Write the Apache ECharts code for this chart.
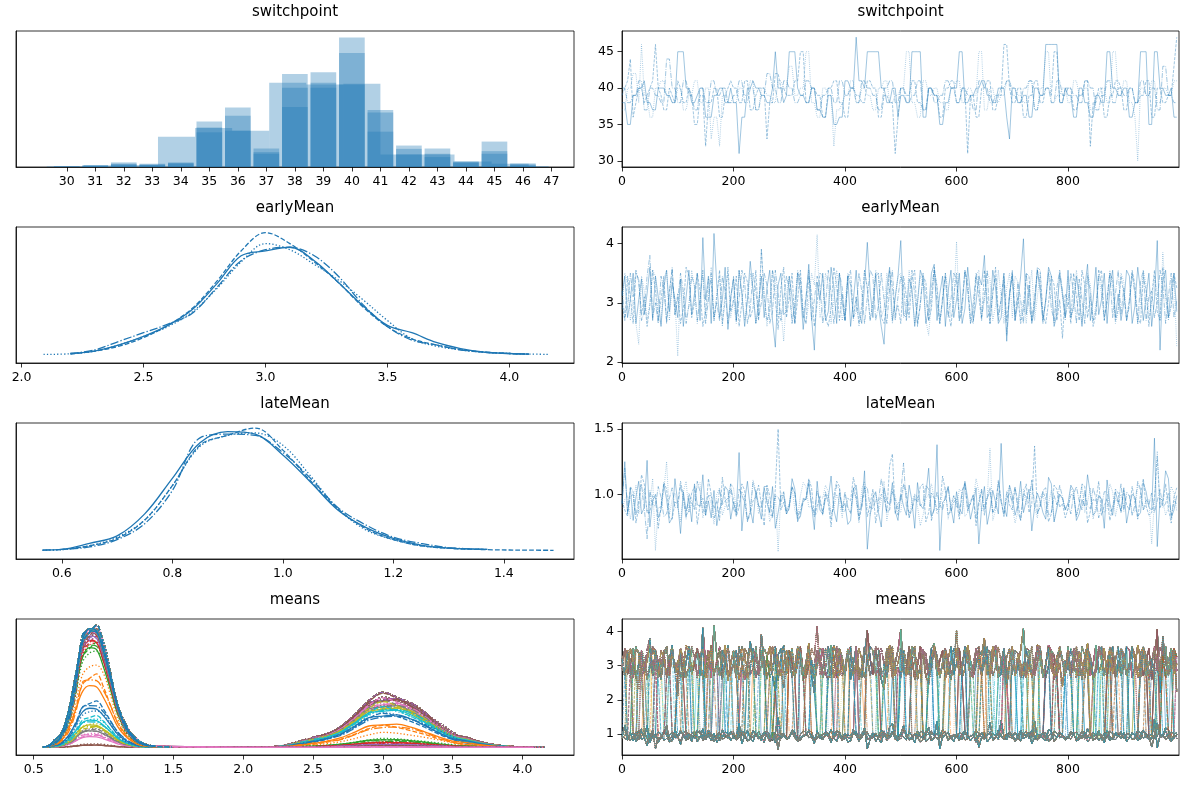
<!DOCTYPE html>
<html><head><meta charset="utf-8">
<script src="https://cdn.jsdelivr.net/npm/echarts@6/dist/echarts.min.js"></script>
<style>html,body{margin:0;padding:0;background:#fff}#c{width:1188px;height:789px}</style>
</head><body><div id="c"></div>
<script>
// ---------------- colours ----------------
const TAB10 = ['#1f77b4','#ff7f0e','#2ca02c','#d62728','#9467bd','#8c564b','#e377c2','#7f7f7f','#bcbd22','#17becf'];

// ---------------- panel titles ----------------
const panelTitles = ['switchpoint','switchpoint','earlyMean','earlyMean','lateMean','lateMean','means','means'];

// ---------------- switchpoint histogram (4 chains) ----------------
const histBins = [30,31,32,33,34,35,36,37,38,39,40,41,42,43,44,45,46];
const histChain0 = [2,6,14,10,14,138,180,56,282,287,392,173,65,56,17,77,11];
const histChain1 = [2,4,10,8,12,120,155,45,240,255,345,165,55,40,15,48,8];
const histChain2 = [1,3,8,6,10,105,110,40,182,240,250,107,38,30,12,40,5];
const histChain3Edges = [29.3,30.6,31.9,33.2,34.5,35.8,37.1,38.4,39.7,41.0,42.3,43.6,44.9,46.2,46.9];
const histChain3 = [2,5,6,92,118,110,255,250,252,38,38,17,10,3];

// ---------------- trace samples (every 5th draw) ----------------
const DRAWS = Array.from({length:200}, (_, k) => k * 5);

const spChain0 = [
38,38,35,35,39,39,40,40,41,38, 38,37,37,40,40,40,39,39,38,38,
45,45,45,40,40,38,38,39,40,40, 36,36,36,39,39,40,40,38,38,40,
38,38,31,36,36,40,40,41,40,40, 39,39,38,38,40,45,40,40,38,39,
45,45,45,40,39,39,38,38,40,40, 37,37,36,36,39,39,35,35,36,36,
41,41,40,40,47,41,41,40,45,45, 45,45,45,40,40,38,38,40,40,36,
39,39,38,38,45,45,45,45,36,36, 40,40,39,39,35,35,38,38,40,40,
40,45,45,38,38,39,39,40,40,41, 41,39,39,38,38,40,40,40,36,33,
40,40,38,38,39,39,36,36,40,40, 39,39,46,46,46,46,46,38,38,40,
39,39,36,36,40,40,38,38,36,36, 39,39,38,38,45,45,40,40,39,39,
40,40,36,36,38,38,45,45,45,35, 35,45,45,40,40,39,39,40,36,36];
const spChain1 = [
39,40,41,44,36,38,40,40,38,39, 40,41,46,40,39,37,37,40,39,38,
41,40,38,38,40,39,35,35,39,39, 32,38,38,40,40,36,36,39,40,41,
40,40,38,38,41,41,37,37,39,40, 40,40,33,38,38,42,42,40,40,39,
39,39,41,41,45,45,38,38,40,40, 39,39,36,36,40,40,41,41,38,38,
36,36,40,40,39,39,38,38,41,41, 40,40,36,36,39,39,38,38,31,36,
40,40,39,39,41,41,38,38,37,37, 40,40,39,39,36,36,40,40,41,41,
38,38,40,40,31,39,39,36,36,40, 40,41,41,37,37,39,39,46,46,40,
38,38,40,40,36,36,39,39,41,41, 38,38,40,40,39,45,45,38,38,40,
40,40,37,37,39,39,41,41,32,38, 38,40,40,36,36,39,39,41,41,40,
37,37,40,40,38,38,39,39,41,41, 36,36,40,40,38,38,39,39,43,47];
const spChain2 = [
37,37,40,40,42,42,38,46,39,39, 36,36,40,40,41,41,39,39,38,38,
40,40,37,37,39,39,41,41,38,38, 40,40,33,36,36,32,39,39,38,38,
38,38,40,40,39,39,41,41,37,37, 40,40,39,39,38,38,41,41,40,40,
43,43,39,39,40,40,45,45,38,38, 36,36,40,40,39,39,32,37,37,38,
39,39,41,41,38,38,40,40,39,39, 37,37,40,40,41,41,38,38,39,39,
40,40,45,45,38,38,36,36,41,41, 39,39,40,40,38,38,37,37,40,40,
41,41,38,38,40,40,39,39,45,45, 37,37,40,40,38,38,39,39,41,41,
40,40,39,39,38,38,41,41,37,37, 40,40,45,45,38,38,39,39,40,40,
38,38,41,41,39,39,40,40,37,37, 39,39,40,40,38,38,45,45,39,39,
41,41,38,38,36,30,40,40,39,39, 41,41,38,38,40,40,39,39,41,41];
const spChain3 = [
40,40,38,38,39,39,41,41,37,37, 40,40,39,39,38,38,44,44,40,40,
38,38,41,41,39,39,37,37,40,40, 38,38,41,41,39,39,40,40,38,38,
39,39,41,41,38,38,40,40,37,37, 39,39,42,42,40,40,38,38,41,41,
40,40,38,38,39,39,41,41,40,40, 37,37,39,39,40,40,38,38,41,41,
39,39,40,40,38,38,41,41,40,40, 39,39,37,37,40,40,41,41,38,38,
40,40,38,38,39,39,41,41,37,37, 40,40,38,38,39,39,41,41,40,40,
38,38,40,40,39,39,37,37,41,41, 40,40,38,38,39,39,40,40,41,41,
39,39,38,38,40,40,41,41,37,37, 39,39,40,40,38,38,41,41,39,39,
40,40,39,39,38,38,41,41,40,40, 37,37,39,39,41,41,38,38,40,40,
39,39,40,40,38,38,41,41,39,39, 40,40,37,37,43,43,39,39,38,38];

const earlyChain0 = [
3.12,3.45,2.75,3.05,3.50,2.65,3.05,3.40,2.80,3.15, 3.60,2.70,3.45,3.10,2.60,3.25,3.55,2.85,3.35,3.05,
2.75,3.40,2.60,3.10,3.55,2.80,3.15,3.50,2.70,4.10, 3.05,3.45,2.65,4.17,3.30,2.75,3.05,3.60,2.55,3.10,
3.40,2.70,3.55,3.15,2.60,3.05,3.70,3.20,2.65,3.00, 3.45,2.75,3.25,3.55,2.70,2.25,3.30,3.50,2.80,2.85,
3.45,3.10,2.65,3.50,3.20,2.55,3.05,3.65,2.75,2.20, 3.35,3.05,3.50,2.70,2.85,3.60,3.25,2.65,3.50,3.00,
2.70,3.45,2.60,3.05,3.55,2.85,2.65,3.30,4.02,3.20, 2.75,3.50,2.95,2.60,2.30,3.25,3.60,2.70,3.10,3.45,
4.05,2.80,2.75,3.40,3.25,2.60,3.00,3.55,3.40,2.65, 2.90,3.50,3.65,2.70,3.15,3.45,2.60,3.20,3.55,2.75,
3.05,3.50,2.65,2.90,3.60,3.15,2.70,3.00,3.45,3.30, 3.80,2.75,2.85,3.55,3.25,2.65,2.75,3.40,2.35,3.15,
3.50,2.70,3.00,3.45,4.08,2.80,3.30,2.65,2.90,3.55, 3.20,2.70,3.05,3.60,3.45,2.60,2.80,3.50,3.15,2.75,
3.55,2.75,2.95,3.45,3.10,2.60,3.25,3.65,2.70,3.05, 3.60,2.80,3.05,3.50,2.65,3.25,3.55,2.75,3.15,2.70,
3.00,3.55,3.45,2.65,2.95,3.60,3.20,2.70,3.10,3.50, 2.60,3.05,4.05,2.20,3.35,3.55,2.75,3.25,3.50,2.85];
const earlyChain1 = [
3.00,2.70,3.45,3.10,2.65,3.50,3.40,2.80,3.10,2.60, 2.95,3.55,3.20,2.70,3.05,3.45,2.65,3.20,3.55,2.80,
3.15,2.65,2.90,3.60,3.45,2.75,3.00,3.50,3.20,2.60, 2.85,3.40,3.35,2.70,3.10,3.55,2.65,3.05,3.60,2.85,
3.05,3.45,2.60,3.00,3.50,3.35,2.75,2.90,3.55,2.70, 3.90,3.10,2.70,2.85,3.55,3.05,2.55,3.25,3.60,2.75,
3.10,3.50,2.65,3.05,3.55,2.80,2.65,3.45,3.15,2.60, 3.00,3.50,3.45,2.75,2.60,2.90,3.60,3.30,2.70,3.15,
2.70,3.40,3.55,2.75,3.10,2.65,2.95,3.55,3.25,2.70, 3.00,3.45,3.50,2.75,2.65,3.00,3.55,3.25,2.80,2.95,
2.65,3.45,3.10,2.75,3.40,3.55,2.60,3.00,3.45,3.35, 2.70,2.90,3.60,3.25,2.65,3.05,3.50,2.85,2.60,3.10,
3.50,2.70,3.00,3.55,3.35,2.75,2.65,3.45,3.10,2.70, 3.55,3.05,2.65,3.15,3.60,2.80,3.05,3.50,2.70,3.10,
3.55,2.75,3.10,2.65,2.90,3.50,3.45,2.70,3.00,3.60, 3.55,2.80,2.65,3.00,3.45,3.30,2.70,3.05,2.40,3.15,
3.05,2.65,3.50,3.10,2.70,3.55,3.30,2.75,3.10,2.60, 2.80,3.45,3.55,2.75,3.00,3.50,3.40,2.70,2.90,3.45,
3.15,2.70,3.05,3.55,3.30,2.75,2.65,3.45,3.20,2.60, 3.10,3.55,2.85,2.70,3.60,3.15,2.75,2.95,3.50,3.25];
const earlyChain2 = [
2.90,3.50,3.35,2.70,3.05,2.65,2.30,3.45,3.20,2.70, 3.00,3.55,3.45,2.75,2.65,3.40,3.55,2.70,3.30,3.05,
2.10,3.40,3.10,2.75,2.95,3.55,3.25,2.65,3.05,3.50, 2.80,3.10,3.60,2.70,3.15,3.45,2.60,3.20,3.50,2.75,
3.05,2.65,3.55,3.15,2.70,3.05,3.50,3.25,2.65,2.85, 3.90,3.10,2.60,3.00,3.55,3.35,2.75,2.90,2.35,3.15,
3.45,2.70,3.00,3.55,3.40,2.75,2.65,3.00,3.50,3.30, 4.15,2.75,2.90,3.50,3.30,2.65,3.05,3.55,3.20,2.70,
2.95,3.50,3.35,2.70,3.10,2.60,2.85,3.55,3.25,2.70, 3.00,3.55,3.45,2.75,2.90,3.50,3.20,2.65,3.05,3.45,
3.50,2.75,2.95,3.55,3.15,2.65,3.00,3.45,3.35,2.70, 2.45,3.05,3.55,3.30,2.70,3.00,3.50,3.20,2.75,2.95,
4.03,2.80,3.00,3.50,3.30,2.65,2.85,3.45,3.55,2.75, 3.05,3.50,3.40,2.70,2.95,3.55,3.10,2.65,3.25,3.50,
2.75,3.45,3.35,2.70,3.05,2.65,3.15,3.55,2.70,3.10, 3.50,2.75,3.00,3.55,3.20,2.65,2.95,3.45,3.10,2.70,
3.45,2.75,2.90,3.55,3.20,2.65,3.05,3.50,3.30,2.70, 2.95,3.45,3.15,2.70,3.00,3.55,3.25,2.65,2.85,3.50,
3.35,2.70,3.05,3.50,3.15,2.65,2.95,3.55,3.30,2.75, 3.00,3.45,3.20,2.70,3.85,3.10,2.70,2.95,3.45,2.25];
const earlyChain3 = [
3.20,2.75,2.95,3.50,3.10,3.55,3.35,2.70,2.85,3.45, 3.80,2.75,3.00,2.65,3.45,3.25,2.70,3.15,3.60,2.80,
3.05,3.50,3.20,2.65,2.95,3.45,3.30,2.70,3.10,3.55, 2.65,3.05,3.50,2.75,3.00,2.70,3.45,3.20,2.65,3.05,
3.45,2.70,3.05,3.55,3.35,2.65,2.90,3.50,3.20,2.75, 3.00,3.50,3.30,2.65,2.85,3.55,3.15,2.70,3.05,3.45,
3.25,2.65,2.95,3.50,3.40,2.75,3.10,3.55,2.70,3.05, 3.45,3.30,2.65,2.95,3.55,3.15,2.65,3.05,3.50,3.25,
2.70,3.45,3.30,2.75,2.85,3.50,3.20,2.65,3.10,3.55, 3.45,2.70,2.95,3.50,3.05,2.65,3.25,3.55,2.70,3.10,
3.45,3.30,2.70,3.05,3.55,3.15,2.65,2.95,3.50,3.10, 2.70,3.25,3.55,3.00,2.65,3.10,3.45,2.75,3.05,3.50,
3.40,2.70,2.85,3.55,3.20,2.65,3.00,3.50,3.30,2.75, 3.10,3.55,2.65,3.20,3.45,2.70,3.05,3.50,2.45,3.15,
3.45,2.70,3.35,3.05,2.65,3.50,2.95,2.70,3.10,3.55, 3.30,2.65,3.05,3.50,2.90,2.70,3.25,3.55,3.20,2.75,
3.00,3.50,3.15,2.65,3.40,3.05,2.65,3.45,3.20,2.70, 2.85,3.55,3.30,2.70,3.10,3.50,2.75,3.15,3.55,2.80,
3.25,2.70,2.95,3.50,3.15,2.65,3.35,3.55,2.70,3.10, 3.20,2.75,3.00,3.55,3.30,2.65,3.10,3.50,2.75,3.05];

const lateChain0 = [
0.92,1.25,0.85,1.05,0.80,0.98,1.10,0.85,0.90,1.26, 0.75,0.95,1.00,0.82,0.88,1.08,0.96,0.78,0.82,1.12,
0.93,0.70,1.02,0.87,0.97,0.79,1.08,0.92,0.91,1.15, 0.84,0.95,0.82,1.03,0.76,0.89,0.94,1.06,1.03,0.81,
0.94,0.86,1.32,0.72,0.95,1.10,0.89,0.78,1.03,0.92, 0.81,1.05,0.94,0.86,1.06,0.74,0.86,0.99,0.99,0.85,
0.90,1.12,1.04,0.80,0.83,0.96,0.96,1.08,0.92,0.73, 1.10,0.88,0.85,0.97,0.97,1.14,0.88,0.79,1.01,0.90,
0.93,0.77,0.80,1.04,1.07,0.88,0.90,1.18,0.58,0.84, 0.98,1.02,0.86,0.75,1.05,0.95,0.92,1.09,0.87,0.80,
1.00,0.91,0.84,1.07,0.95,0.74,1.09,0.92,0.89,1.00, 1.20,0.83,0.88,1.38,0.57,0.94,0.96,1.06,0.90,0.78,
1.02,0.89,0.85,1.10,0.97,0.81,0.91,1.05,0.62,0.90, 1.06,0.77,0.88,1.03,0.94,0.85,1.39,0.92,0.83,1.07,
0.99,0.84,0.92,1.10,0.86,0.95,1.04,0.72,0.90,1.01, 0.95,0.86,0.81,1.13,1.08,0.79,0.89,1.00,0.97,0.88,
0.93,1.07,1.03,0.80,0.85,0.96,0.91,1.15,1.00,0.84, 0.87,0.99,0.96,0.74,1.11,0.93,0.84,1.02,0.94,0.87,
1.05,0.78,0.90,1.00,0.98,0.83,0.86,1.09,1.02,0.90, 0.88,1.43,0.60,0.97,0.95,1.18,1.12,0.82,0.88,0.99];
const lateChain1 = [
0.95,0.88,0.83,1.06,1.02,0.78,0.90,1.15,1.08,0.86, 0.86,0.99,0.97,0.74,0.91,1.09,1.04,0.82,0.81,0.94,
0.93,1.10,0.99,0.84,0.87,1.01,1.06,0.77,0.92,0.97, 0.84,1.12,1.00,0.89,0.95,0.80,1.13,0.96,0.88,1.04,
0.96,0.83,0.90,1.08,1.03,0.79,0.85,0.95,0.98,1.07, 0.92,0.76,1.07,0.99,0.82,1.04,1.50,0.88,0.94,0.85,
0.89,1.06,1.01,0.79,0.86,0.94,0.97,1.12,1.05,0.83, 0.91,0.98,0.84,1.02,0.93,0.75,0.99,1.10,1.06,0.87,
0.87,0.97,0.95,1.13,1.02,0.80,0.90,1.05,0.83,0.92, 1.04,0.78,0.92,1.00,0.98,0.86,1.22,1.31,0.85,0.93,
0.96,1.08,1.00,0.82,0.89,0.97,0.94,1.06,1.08,0.79, 0.86,1.01,0.97,0.88,0.91,1.14,1.03,0.84,0.88,0.99,
0.95,0.81,1.01,1.09,0.87,0.93,0.99,0.76,0.92,1.03, 0.84,0.98,1.05,0.86,0.90,1.11,0.96,0.83,1.02,0.92,
0.88,1.05,0.94,0.80,1.00,1.08,0.86,0.93,1.37,0.85, 0.91,1.02,0.97,0.79,0.85,1.07,1.04,0.90,0.93,0.82,
0.89,1.00,0.99,0.83,0.92,1.08,1.06,0.78,0.87,0.96, 0.95,1.10,0.84,0.91,0.97,0.80,0.90,1.04,1.01,0.86,
1.03,0.92,0.88,1.06,0.94,0.81,1.00,1.12,0.91,0.84, 0.86,0.97,1.29,0.90,0.93,1.08,0.89,0.78,0.98,1.05];
const lateChain2 = [
0.88,0.96,0.99,0.81,0.92,1.07,0.85,0.95,1.04,0.86, 0.94,1.12,0.57,0.90,0.90,1.03,1.25,0.84,0.96,1.01,
0.91,0.79,1.02,1.10,0.86,0.93,0.97,1.06,1.09,0.82, 0.89,0.99,0.93,0.77,1.00,1.05,0.84,0.91,0.95,1.08,
1.05,0.88,0.90,1.02,0.98,0.80,0.87,1.11,1.03,0.85, 0.92,0.97,0.96,0.79,0.85,1.00,0.56,1.01,1.01,0.87,
0.93,1.06,0.88,0.82,0.99,1.09,1.06,0.90,0.91,0.83, 0.86,0.99,0.97,1.07,1.02,0.85,0.89,1.00,0.94,0.82,
1.00,0.91,0.85,1.04,0.96,0.78,1.04,1.10,0.90,0.84, 0.93,1.01,0.87,0.95,1.10,0.80,0.92,1.05,0.99,0.88,
0.86,1.07,1.03,0.82,0.95,1.00,0.91,0.76,0.84,0.97, 1.00,1.08,0.97,0.85,0.89,1.02,1.05,0.81,0.93,0.99,
0.90,1.04,1.01,0.83,0.86,0.96,0.96,1.12,1.02,0.87, 0.92,0.97,1.35,0.80,0.88,1.01,0.95,0.86,1.00,1.06,
0.91,0.78,0.87,1.03,1.04,0.92,0.94,1.09,0.89,0.82, 0.98,1.02,0.85,0.93,1.03,0.79,0.92,1.00,0.96,0.88,
0.88,1.05,1.00,0.84,0.93,1.07,0.86,0.94,1.05,0.81, 0.91,0.99,0.97,0.86,0.89,1.08,1.02,0.83,0.94,1.00,
0.90,1.02,0.99,0.85,0.87,1.07,1.03,0.88,0.92,0.96, 0.62,0.95,1.33,0.90,0.95,0.84,0.90,1.06,1.01,0.87];
const lateChain3 = [
0.93,1.20,0.87,0.98,1.00,0.84,0.95,1.08,0.89,0.66, 1.03,0.92,0.91,1.06,0.98,0.83,0.85,0.97,1.05,0.90,
0.90,1.07,0.96,0.81,1.01,0.94,0.88,1.10,1.02,0.86, 0.94,0.99,0.99,0.82,0.86,1.04,0.92,0.95,0.97,1.08,
0.89,0.84,1.04,1.00,0.93,0.80,0.87,1.09,1.00,0.91, 0.90,1.06,1.06,0.84,0.84,0.99,0.98,0.93,1.02,0.87,
0.92,1.05,1.01,0.83,0.88,0.97,0.96,1.11,0.91,0.85, 1.03,0.94,0.87,1.00,0.99,0.81,0.94,1.07,1.04,0.88,
1.02,0.89,0.86,1.05,0.97,0.82,0.93,1.06,1.05,0.90, 0.89,0.96,0.95,1.12,1.00,0.86,0.88,1.02,0.96,0.84,
1.01,1.24,0.91,0.86,0.87,1.00,0.98,0.91,0.94,1.07, 1.04,0.80,0.90,1.02,0.92,0.88,0.99,1.06,0.86,0.94,
0.96,0.85,1.03,1.08,0.89,0.93,1.00,0.81,0.95,1.04, 0.88,0.97,1.02,0.86,0.91,1.09,0.94,0.84,0.97,1.01,
0.94,1.06,0.87,0.80,1.01,0.98,0.96,1.11,0.92,0.86, 0.90,1.03,1.05,0.84,0.86,0.99,0.92,1.07,0.98,0.89,
0.93,0.85,1.00,1.06,0.95,0.88,1.03,0.91,0.89,1.05, 0.97,0.82,0.91,1.02,1.02,0.87,0.89,0.97,0.94,1.08,
0.87,1.00,0.99,0.84,0.92,1.10,1.04,0.88,0.96,0.92, 1.01,0.86,0.95,1.04,0.90,0.93,1.01,0.84,0.95,0.93];

// ---------------- KDE curves (relative density, tallest = 100) ----------------
const earlyKdeX = [2.09,2.2,2.3,2.4,2.5,2.6,2.7,2.8,2.9,3.0,3.1,3.2,3.3,3.4,3.5,3.6,3.7,3.8,3.9,4.0,4.08,4.16];
const earlyKde0 = [null,1,3,8,15,24,37,58,81,85,88,77,59,40,24,18,10,5,2,1,0.5,null];
const earlyKde1 = [null,0.5,3,7,14,24,38,60,85,100,91,76,59,39,23,13,8,4,2,1,0.5,null];
const earlyKde2 = [0.2,0.8,3,8,15,23,35,54,76,91,86,74,61,45,28,13,7,4,2,1,0.5,0.3];
const earlyKde3 = [null,1,4,11,18,25,34,55,77,86,88,81,64,41,23,12,8,4,2,1,0.5,null];

const lateKdeX = [0.565,0.6,0.65,0.7,0.75,0.8,0.85,0.9,0.95,1.0,1.05,1.1,1.15,1.2,1.25,1.3,1.37,1.45,1.49];
const lateKde0 = [0.5,1,6,12,30,59,88,97,95,78,56,33,19,10,4.5,2,1,null,null];
const lateKde1 = [null,0.8,4,10,25,53,86,94,100,82,57,34,18,9,4,2,0.8,0.4,0.3];
const lateKde2 = [0.3,0.8,4,11,25,53,85,94,96,86,61,34,17,9,4,2,1,null,null];
const lateKde3 = [0.4,1,3,9,22,49,92,95,94,80,59,35,21,11,6,2.5,1,null,null];

// means: 111 variables; probability of the late regime per variable & chain
const MEANS_N_EARLY = 35;          // variables 0..34 always early
const MEANS_N_LATE = 64;           // variables 47..110 always late
const meansLateW0 = [0.02,0.09,0.14,0.19,0.23,0.33,0.52,0.84,0.90,0.94,0.97,0.99]; // variables 35..46
const meansLateW1 = [0.02,0.10,0.15,0.17,0.26,0.38,0.60,0.86,0.91,0.95,0.97,0.99];
const meansLateW2 = [0.03,0.12,0.16,0.20,0.24,0.31,0.70,0.82,0.89,0.93,0.96,0.99];
const meansLateW3 = [0.02,0.11,0.14,0.18,0.22,0.36,0.58,0.88,0.92,0.95,0.98,0.99];
const EARLY_TO_LATE_PEAK = 0.45;   // early-mode peak height relative to late-mode peak (means panel)

// ---------------- layout ----------------
const ROW_TOP = [31, 227, 423, 619], ROW_H = 136, COL_L = [16, 622], COL_W = [558, 557];
const KDE_DASH = ['solid', [4.8,2.1], [1.3,2.1], [8.3,2.1,1.3,2.1]];
const TR_DASH = ['solid', [3,1.3], [0.8,1.3], [5.1,1.3,0.8,1.3]];
const FONT = 'DejaVu Sans';

const grids = [], graphics = [];
for (let r = 0; r < 4; r++) for (let c = 0; c < 2; c++) {
  grids.push({left: COL_L[c], top: ROW_TOP[r], width: COL_W[c], height: ROW_H, show: true, borderColor: '#000', borderWidth: 0.8, backgroundColor: 'transparent'});
  graphics.push({type: 'text', x: COL_L[c] + COL_W[c] / 2, y: ROW_TOP[r] - 19,
    style: {text: panelTitles[r*2+c], fontSize: 15, fontFamily: FONT, fill: '#000', align: 'center', verticalAlign: 'middle'}});
}

function axis(gi, min, max, ticks, fmt) {
  const a = {type: 'value', gridIndex: gi, min: min, max: max, splitLine: {show: false},
    axisLine: {show: true, onZero: false, lineStyle: {color: '#000', width: 0.8}}};
  if (ticks) {
    a.axisTick = {show: true, length: 4.5, lineStyle: {color: '#000', width: 0.8}, customValues: ticks};
    a.axisLabel = {show: true, customValues: ticks, margin: 8, fontSize: 12.5, fontFamily: FONT, color: '#000',
      formatter: fmt || (v => String(v))};
  } else {
    a.axisTick = {show: false}; a.axisLabel = {show: false};
  }
  return a;
}
const f1 = v => Number(v).toFixed(1);
const traceTicks = [0, 200, 400, 600, 800];

const xAxes = [
  axis(0, 28.22, 47.79, histBins.concat([47])),
  axis(1, 0, 999, traceTicks),
  axis(2, 1.977, 4.265, [2.0,2.5,3.0,3.5,4.0], f1),
  axis(3, 0, 999, traceTicks),
  axis(4, 0.517, 1.527, [0.6,0.8,1.0,1.2,1.4], f1),
  axis(5, 0, 999, traceTicks),
  axis(6, 0.373, 4.369, [0.5,1.0,1.5,2.0,2.5,3.0,3.5,4.0], f1),
  axis(7, 0, 999, traceTicks)
];
const yAxes = [
  axis(0, 0, 412, null),
  axis(1, 29.15, 47.85, [30,35,40,45]),
  axis(2, -6.8, 104.6, null),
  axis(3, 1.983, 4.279, [2,3,4]),
  axis(4, -6.8, 104.1, null),
  axis(5, 0.505, 1.546, [1.0,1.5], f1),
  axis(6, -6.2, 104.9, null),
  axis(7, 0.39, 4.36, [1,2,3,4])
];

const series = [];

// histogram (custom rects through the axis scales)
const HIST_HALF = 0.45;
function histSeries(lefts, rights, heights) {
  return {type: 'custom', xAxisIndex: 0, yAxisIndex: 0, silent: true, animation: false,
    data: heights.map((h, k) => [lefts[k], rights[k], h]),
    encode: {x: [0, 1], y: 2},
    renderItem: (params, api) => {
      const p0 = api.coord([api.value(0), api.value(2)]);
      const p1 = api.coord([api.value(1), 0]);
      return {type: 'rect', shape: {x: p0[0], y: p0[1], width: p1[0] - p0[0], height: p1[1] - p0[1]},
        style: {fill: TAB10[0], opacity: 0.35}};
    }};
}
[histChain0, histChain1, histChain2].forEach(h =>
  series.push(histSeries(histBins.map(b => b - HIST_HALF), histBins.map(b => b + HIST_HALF), h)));
series.push(histSeries(histChain3Edges.slice(0, -1), histChain3Edges.slice(1), histChain3));

// helpers
function lineSeries(gi, pts, color, dash, width, opacity, smooth) {
  return {type: 'line', xAxisIndex: gi, yAxisIndex: gi, data: pts, symbol: 'none', showSymbol: false,
    silent: true, animation: false, clip: true, smooth: smooth || false,
    emphasis: {disabled: true},
    lineStyle: {color: color, width: width, type: dash, opacity: opacity}};
}
function trace(arr) { return DRAWS.map((d, k) => [d, arr[k]]); }
function kde(xs, ys, scale) {
  const out = [];
  xs.forEach((x, k) => { if (ys[k] != null) out.push([x, ys[k] * scale]); });
  return out;
}

const spChains = [spChain0, spChain1, spChain2, spChain3];
const earlyChains = [earlyChain0, earlyChain1, earlyChain2, earlyChain3];
const lateChains = [lateChain0, lateChain1, lateChain2, lateChain3];
const earlyKdes = [earlyKde0, earlyKde1, earlyKde2, earlyKde3];
const lateKdes = [lateKde0, lateKde1, lateKde2, lateKde3];

const TR_W = 1.0, TR_A = 0.42, MEANS_TR_A = 0.55, KDE_W = 1.3, SMOOTH = 0.35;
for (let c = 0; c < 4; c++) {
  series.push(lineSeries(1, trace(spChains[c]), TAB10[0], TR_DASH[c], TR_W, TR_A));
  series.push(lineSeries(2, kde(earlyKdeX, earlyKdes[c], 1), TAB10[0], KDE_DASH[c], KDE_W, 1, SMOOTH));
  series.push(lineSeries(3, trace(earlyChains[c]), TAB10[0], TR_DASH[c], TR_W, TR_A));
  series.push(lineSeries(4, kde(lateKdeX, lateKdes[c], 1), TAB10[0], KDE_DASH[c], KDE_W, 1, SMOOTH));
  series.push(lineSeries(5, trace(lateChains[c]), TAB10[0], TR_DASH[c], TR_W, TR_A));
}

// means: per-variable late weights for each chain
const transW = [meansLateW0, meansLateW1, meansLateW2, meansLateW3];
const meansW = transW.map(t => new Array(MEANS_N_EARLY).fill(0).concat(t, new Array(MEANS_N_LATE).fill(1)));
const NVAR = meansW[0].length;

for (let i = 0; i < NVAR; i++) {
  const col = TAB10[i % 10];
  for (let c = 0; c < 4; c++) {
    const w = meansW[c][i];
    let pts = [];
    if (w > 0) pts = pts.concat(kde(lateKdeX, lateKdes[c], w));
    if (w < 1) pts = pts.concat(kde(earlyKdeX, earlyKdes[c], (1 - w) * EARLY_TO_LATE_PEAK));
    series.push(lineSeries(6, pts, col, KDE_DASH[c], KDE_W, 1, SMOOTH));
  }
}
// means[i] follows earlyMean while switchpoint >= i, lateMean afterwards (chains drawn one after another)
for (let c = 0; c < 4; c++) {
  const sp = spChains[c], e = earlyChains[c], l = lateChains[c];
  for (let i = 0; i < NVAR; i++) {
    const pts = DRAWS.map((d, k) => [d, sp[k] >= i ? e[k] : l[k]]);
    series.push(lineSeries(7, pts, TAB10[i % 10], TR_DASH[c], 0.9, MEANS_TR_A));
  }
}

const chart = echarts.init(document.getElementById('c'), null, {renderer: 'canvas'});
chart.setOption({
  animation: false,
  backgroundColor: '#fff',
  grid: grids,
  xAxis: xAxes,
  yAxis: yAxes,
  graphic: graphics,
  series: series
});
</script>
</body></html>
